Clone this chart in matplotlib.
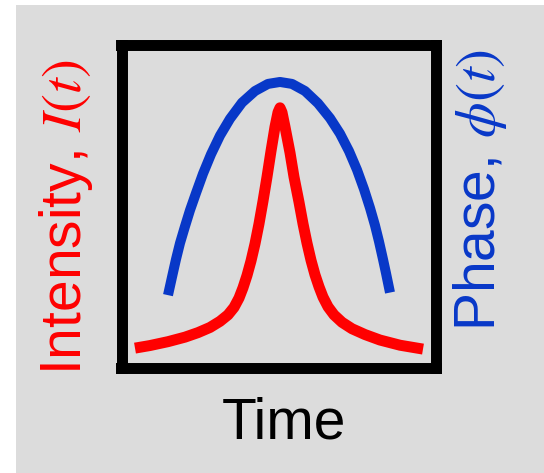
import matplotlib
matplotlib.use("Agg")
import matplotlib.pyplot as plt
from matplotlib.patches import Rectangle

plt.rcParams['font.family'] = ['Liberation Sans', 'DejaVu Sans']
plt.rcParams['mathtext.fontset'] = 'stix'

# intensity pulse (red)
t_int = [-1.45, -1.30, -1.12, -0.95, -0.82, -0.70, -0.60, -0.52, -0.46, -0.41, -0.37, -0.33,
         -0.29, -0.25, -0.21, -0.17, -0.13, -0.09, -0.05, -0.02, 0.00,
         0.02, 0.05, 0.10, 0.14, 0.19, 0.23, 0.27, 0.31, 0.35, 0.39, 0.43, 0.48,
         0.54, 0.62, 0.72, 0.85, 1.00, 1.20, 1.43]
intensity = [0.060, 0.068, 0.080, 0.094, 0.108, 0.124, 0.143, 0.163, 0.186, 0.215, 0.247, 0.285,
             0.330, 0.383, 0.445, 0.515, 0.590, 0.670, 0.745, 0.790, 0.804,
             0.790, 0.745, 0.665, 0.590, 0.512, 0.445, 0.385, 0.332, 0.287, 0.250, 0.218, 0.188,
             0.163, 0.140, 0.120, 0.102, 0.085, 0.069, 0.057]

# phase (blue)
t_phase = [-1.12, -1.08, -1.04, -1.00, -0.95, -0.90, -0.84, -0.77, -0.69, -0.60, -0.50, -0.38,
           -0.25, -0.12, 0.00, 0.12, 0.25, 0.38, 0.50, 0.60, 0.69, 0.77, 0.84, 0.90,
           0.95, 0.99, 1.03, 1.06, 1.08, 1.10]
phase = [0.224, 0.280, 0.335, 0.385, 0.437, 0.487, 0.540, 0.600, 0.660, 0.718, 0.770, 0.820,
         0.856, 0.878, 0.884, 0.878, 0.856, 0.818, 0.772, 0.724, 0.670, 0.612, 0.552, 0.494,
         0.440, 0.390, 0.335, 0.292, 0.262, 0.232]

bg = '#dcdcdc'
W, H = 544, 473

fig = plt.figure(figsize=(W / 100, H / 100), dpi=100, facecolor='white')
fig.patches.append(Rectangle((16 / W, 0), 1 - 16 / W, 1 - 5 / H, transform=fig.transFigure,
                             facecolor=bg, edgecolor='none', zorder=-1))

ax = fig.add_axes([121.5 / W, 1 - 367.5 / H, 314 / W, 323 / H])
ax.set_facecolor(bg)
ax.plot(t_phase, phase, color='#0838c8', lw=7.2, solid_capstyle='butt', solid_joinstyle='round')
ax.plot(t_int, intensity, color='#ff0000', lw=7.9, solid_capstyle='butt', solid_joinstyle='round')
ax.set_xlim(-1.585, 1.555)
ax.set_ylim(0, 1)
ax.set_xticks([])
ax.set_yticks([])
for s in ax.spines.values():
    s.set_linewidth(7.9)
    s.set_color('black')

fig.text(66 / W, 1 - 217 / H, r'Intensity, $I(t)$', color='#ff0000', fontsize=41,
         rotation=90, ha='center', va='center')
fig.text(480 / W, 1 - 190 / H, r'Phase, $\phi(t)$', color='#0838c8', fontsize=41,
         rotation=90, ha='center', va='center')
fig.text(284 / W, 1 - 438 / H, 'Time', color='black', fontsize=41, ha='center', va='baseline')

fig.savefig('out.png', dpi=100, facecolor=fig.get_facecolor())
